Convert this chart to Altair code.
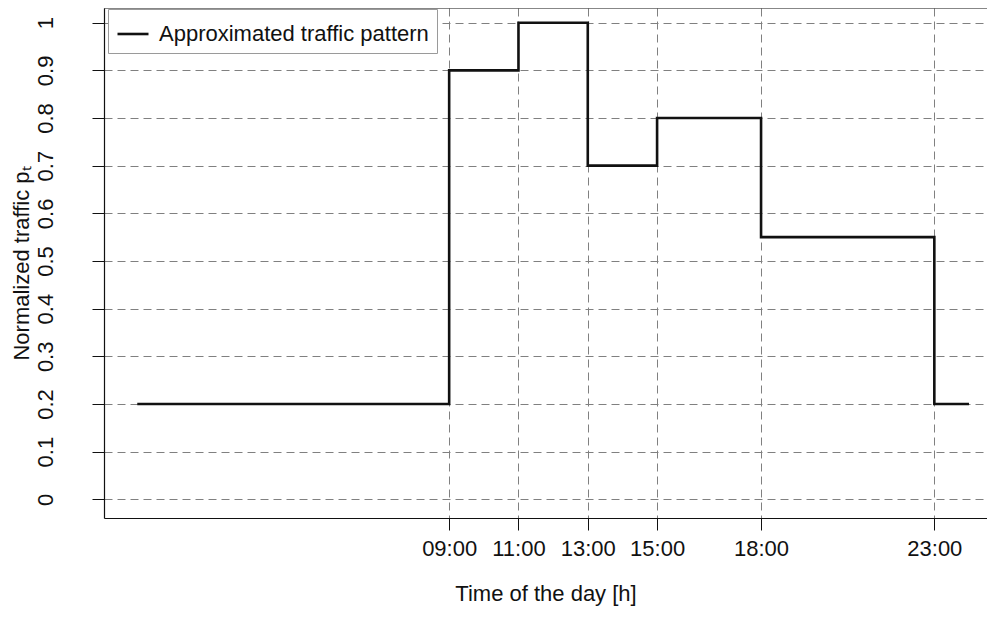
import altair as alt
import pandas as pd

# ---- data ----
hours = [0, 9, 11, 13, 15, 18, 23, 24]
traffic = [0.2, 0.9, 1.0, 0.7, 0.8, 0.55, 0.2, 0.2]
series_name = "Approximated traffic pattern"

x_ticks = [9, 11, 13, 15, 18, 23]
x_tick_labels = ["09:00", "11:00", "13:00", "15:00", "18:00", "23:00"]
y_ticks = [0, 0.1, 0.2, 0.3, 0.4, 0.5, 0.6, 0.7, 0.8, 0.9, 1]
y_tick_labels = ["0", "0.1", "0.2", "0.3", "0.4", "0.5", "0.6", "0.7", "0.8", "0.9", "1"]

x_title = "Time of the day [h]"
y_title = "Normalized traffic p\u209c"

# ---- layout ----
W, H = 883, 510
FONT = "Liberation Sans"
GRID = "#808080"
INK = "#111111"

df = pd.DataFrame({"hour": hours, "traffic": traffic, "series": [series_name] * len(hours)})


def build_expr(values, labels):
    expr = "''"
    for v, lab in reversed(list(zip(values, labels))):
        expr = f"(abs(datum.value - {v}) < 1e-6 ? '{lab}' : {expr})"
    return expr


x_scale = alt.Scale(domain=[-0.96, 24.52], nice=False, zero=False)
y_scale = alt.Scale(domain=[-0.0392, 1.0308], nice=False, zero=False)

line = alt.Chart(df).mark_line(
    interpolate="step-after", strokeWidth=2.6, clip=True
).encode(
    x=alt.X(
        "hour:Q",
        scale=x_scale,
        axis=alt.Axis(
            values=x_ticks,
            labelExpr=build_expr(x_ticks, x_tick_labels),
            title=x_title,
            grid=True,
            gridColor=GRID,
            gridDash=[8, 5],
            gridWidth=1,
            tickSize=12,
            labelPadding=8,
            titlePadding=24,
            labelFlush=False,
            labelFont=FONT,
            titleFont=FONT,
            labelFontSize=22,
            titleFontSize=22,
        ),
    ),
    y=alt.Y(
        "traffic:Q",
        scale=y_scale,
        axis=alt.Axis(
            values=y_ticks,
            labelExpr=build_expr(y_ticks, y_tick_labels),
            title=y_title,
            grid=True,
            gridColor=GRID,
            gridDash=[8, 5],
            gridWidth=1,
            tickSize=12,
            labelAngle=270,
            labelAlign="center",
            labelBaseline="bottom",
            labelPadding=35,
            titlePadding=1,
            labelFlush=False,
            labelFont=FONT,
            titleFont=FONT,
            labelFontSize=22,
            titleFontSize=22,
        ),
    ),
    color=alt.Color(
        "series:N",
        scale=alt.Scale(range=[INK]),
        legend=alt.Legend(
            title=None,
            orient="none",
            legendX=4,
            legendY=1,
            symbolType="stroke",
            symbolStrokeWidth=2.6,
            symbolSize=961,
            labelFontSize=22,
            labelFont=FONT,
            labelColor=INK,
            labelOffset=9,
            labelLimit=0,
            padding=8,
            strokeColor="#9a9a9a",
            fillColor="white",
            cornerRadius=0,
        ),
    ),
)

frame_top = alt.Chart(pd.DataFrame({"f": [0]})).mark_rule(
    color=INK, strokeWidth=1.2
).encode(x=alt.value(0), x2=alt.value(W), y=alt.value(0))

chart = (
    alt.layer(line, frame_top)
    .properties(
        width=W,
        height=H,
        padding={"left": 96, "top": 0, "right": 0, "bottom": 92},
        autosize=alt.AutoSizeParams(type="none"),
        background="white",
    )
    .configure_view(stroke=None)
    .configure_axis(
        domainColor=INK,
        domainWidth=1.2,
        tickColor=INK,
        tickWidth=1,
        titleFontWeight="normal",
        labelColor=INK,
        titleColor=INK,
    )
)

chart.save("out.html", embed_options={"renderer": "svg", "actions": False})
